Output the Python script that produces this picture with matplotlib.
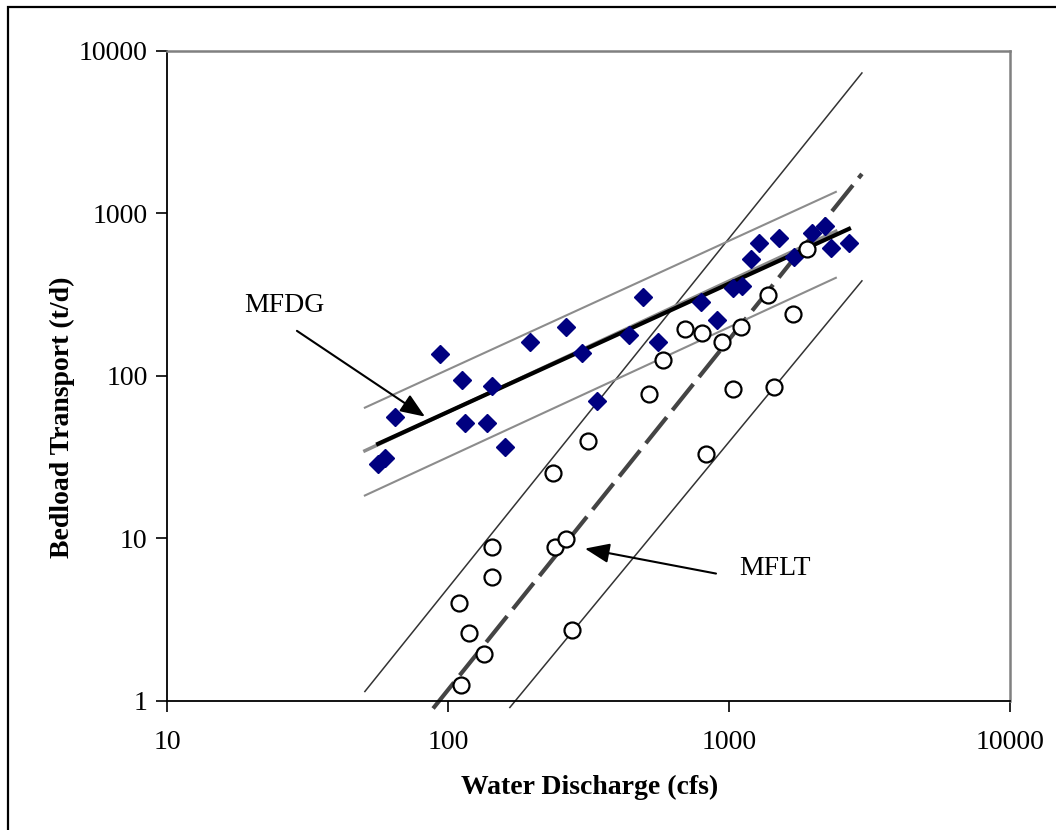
import matplotlib
matplotlib.use("Agg")
import matplotlib.pyplot as plt
from matplotlib.patches import Rectangle

plt.rcParams['font.family'] = ['Liberation Serif', 'DejaVu Serif']

# MFDG observations (water discharge cfs, bedload t/d)
mfdg_q = [56.4, 59.7, 64.7, 93.8, 112, 115, 138, 143.5, 160, 196, 263, 300, 339,
          440, 494, 559, 794, 906, 1033, 1112, 1197, 1279, 1507, 1703, 1972, 2196, 2308, 2673]
mfdg_qs = [28.7, 31.3, 56, 137, 94.5, 51.4, 51.4, 86.8, 36.6, 162, 200, 139, 70.2,
           179, 306, 162, 285, 221, 348, 358, 525, 658, 707, 540, 759, 838, 613, 658]

# MFLT observations
mflt_q = [111, 109.4, 119, 134.3, 143.5, 143.5, 236.6, 240.4, 263, 276, 315, 519, 582,
          697, 801, 944, 828, 1033, 1104, 1377, 1445, 1690, 1897]
mflt_qs = [1.24, 4.0, 2.62, 1.92, 8.87, 5.8, 25.3, 8.87, 9.93, 2.70, 39.8, 77.5, 125.5,
           194.6, 184, 162, 33.1, 83.2, 200, 315, 85.5, 241, 605]

# MFDG rating curve and bounds
mfdg_fit_q = [56.4, 2673]
mfdg_fit_qs = [38.1, 803]
mfdg_band_q = [50.6, 2400]
mfdg_mid_qs = [34.5, 776]
mfdg_upper_qs = [63.6, 1356]
mfdg_lower_qs = [18.3, 401]

# MFLT rating curve and bounds
mflt_fit_q = [88.5, 2972]
mflt_fit_qs = [0.893, 1750]
mflt_upper_q = [50.6, 2972]
mflt_upper_qs = [1.136, 7324]
mflt_lower_q = [166, 2972]
mflt_lower_qs = [0.906, 384]

x_ticks = [10, 100, 1000, 10000]
y_ticks = [1, 10, 100, 1000, 10000]

W, H = 1056, 830
fig = plt.figure(figsize=(W / 100, H / 100), dpi=100)
ax = fig.add_axes([167 / W, 1 - 700.5 / H, (1010 - 167) / W, (700.5 - 51) / H])
ax.set_xscale('log')
ax.set_yscale('log')
ax.set_xlim(10, 10000)
ax.set_ylim(1, 10000)

# MFLT lines
ax.plot(mflt_upper_q, mflt_upper_qs, color='#333333', lw=1.1, zorder=2, clip_on=False)
ax.plot(mflt_lower_q, mflt_lower_qs, color='#333333', lw=1.1, zorder=2, clip_on=False)
ax.plot(mflt_fit_q, mflt_fit_qs, color='#444444', lw=3.0, dashes=(8, 2.2), zorder=2, clip_on=False)

# MFDG lines
ax.plot(mfdg_band_q, mfdg_upper_qs, color='#8c8c8c', lw=1.5, zorder=2)
ax.plot(mfdg_band_q, mfdg_lower_qs, color='#8c8c8c', lw=1.5, zorder=2)
ax.plot(mfdg_band_q, mfdg_mid_qs, color='#8c8c8c', lw=2.5, zorder=2)
ax.plot(mfdg_fit_q, mfdg_fit_qs, color='black', lw=3.0, zorder=3)

# points
ax.plot(mfdg_q, mfdg_qs, linestyle='none', marker='D', ms=9.5, color='#000080',
        markeredgecolor='#000080', zorder=4)
ax.plot(mflt_q, mflt_qs, linestyle='none', marker='o', ms=11.5, markerfacecolor='white',
        markeredgecolor='black', mew=1.6, zorder=5)

# annotations
arrow_kw = dict(arrowstyle='-|>,head_length=1.5,head_width=0.6', color='black', lw=1.5,
                shrinkA=0, shrinkB=0)
ax.annotate('', xy=(82.8, 56.0), xytext=(29.0, 189), arrowprops=arrow_kw, zorder=6)
ax.annotate('', xy=(307, 8.62), xytext=(899, 6.05), arrowprops=arrow_kw, zorder=6)
ax.text(26.1, 270, 'MFDG', fontsize=20, ha='center', va='center')
ax.text(1459, 6.49, 'MFLT', fontsize=20, ha='center', va='center')

# axes styling
ax.set_xticks(x_ticks)
ax.set_xticklabels([str(v) for v in x_ticks])
ax.set_yticks(y_ticks)
ax.set_yticklabels([str(v) for v in y_ticks])
ax.minorticks_off()
ax.tick_params(axis='both', which='major', direction='out', length=8, width=1.2,
               labelsize=20, color='black')
ax.tick_params(axis='y', pad=6)
ax.tick_params(axis='x', pad=13)
ax.spines['left'].set_color('black')
ax.spines['bottom'].set_color('black')
ax.spines['left'].set_linewidth(1.3)
ax.spines['bottom'].set_linewidth(1.3)
ax.spines['top'].set_color('#808080')
ax.spines['right'].set_color('#808080')
ax.spines['top'].set_linewidth(1.8)
ax.spines['right'].set_linewidth(1.8)

fig.text(589.5 / W, 1 - 787 / H, 'Water Discharge (cfs)', fontsize=20, fontweight='bold',
         ha='center', va='center')
fig.text(62 / W, 1 - 417 / H, 'Bedload Transport (t/d)', fontsize=20, fontweight='bold',
         ha='center', va='center', rotation=90)

# outer frame (left and top edges visible)
fig.patches.append(Rectangle((8 / W, -0.1), 1.2, (1 - 7 / H) + 0.1, transform=fig.transFigure,
                             fill=False, lw=1.6, edgecolor='black'))

fig.savefig('out.png', dpi=100)
